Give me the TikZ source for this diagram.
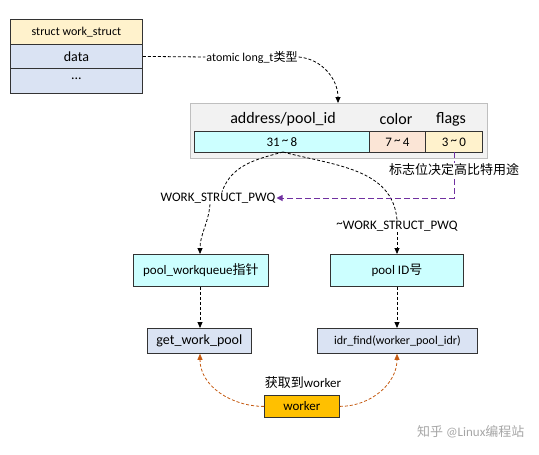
\documentclass[tikz,border=0pt]{standalone}
\usepackage{fontspec}
\setmainfont{Carlito}
\newfontfamily\cjk{Noto Sans CJK SC}
\usetikzlibrary{arrows.meta,calc}
\definecolor{hdr}{RGB}{255,242,204}
\definecolor{lav}{RGB}{218,227,243}
\definecolor{cyn}{RGB}{204,255,255}
\definecolor{pch}{RGB}{251,229,214}
\definecolor{gry}{RGB}{242,242,242}
\definecolor{gold}{RGB}{255,192,0}
\definecolor{purp}{RGB}{112,48,160}
\definecolor{orn}{RGB}{197,90,17}
\tikzset{
  box/.style={draw=black!80, line width=0.8pt, inner sep=0pt, anchor=north west},
  dline/.style={draw=black, line width=0.8pt, dash pattern=on 3pt off 2pt},
  darr/.style={dline, -{Triangle[length=6pt,width=5pt]}},
  parr/.style={draw=purp, line width=1pt, dash pattern=on 6pt off 3pt, -{Triangle[length=6pt,width=6pt]}},
  oarr/.style={draw=orn, line width=0.8pt, dash pattern=on 3pt off 2pt, -{Triangle[length=6pt,width=5pt]}},
  lbl/.style={font=\fontsize{13}{15}\selectfont, inner sep=1pt},
}
\begin{document}
\begin{tikzpicture}[x=1pt,y=-1pt]
\useasboundingbox (0,0) rectangle (539,455);
% struct box
\node[box, fill=hdr, minimum width=132pt, minimum height=25pt] (hd) at (10,19) {};
\node[font=\fontsize{12}{14}\selectfont] at (hd.center) {struct work\_struct};
\node[box, fill=lav, minimum width=132pt, minimum height=24pt] (dt) at (10,44) {};
\node[font=\fontsize{14}{16}\selectfont] at (dt.center) {data};
\node[box, fill=lav, minimum width=132pt, minimum height=25pt] (dots) at (10,68) {};
\node[font=\fontsize{14}{16}\selectfont] at ($(dots.center)+(0,-2)$) {...};
% outer word box
\node[box, draw=black!25, fill=gry, line width=0.6pt, minimum width=297pt, minimum height=55pt] (outer) at (190,103) {};
\node[font=\fontsize{16}{18}\selectfont] (ap) at (283,119) {address/pool\_id};
\node[font=\fontsize{16}{18}\selectfont] (col) at (396,119) {color};
\node[font=\fontsize{16}{18}\selectfont] (flg) at (451,119) {flags};
\node[box, fill=cyn, minimum width=175pt, minimum height=21pt] (c1) at (194,131) {};
\node[lbl] at (c1.center) {31\,\raisebox{0.3ex}{\textasciitilde}\,8};
\node[box, fill=pch, minimum width=56pt, minimum height=21pt] (c2) at (369,131) {};
\node[lbl] at (c2.center) {7\,\raisebox{0.3ex}{\textasciitilde}\,4};
\node[box, fill=hdr, minimum width=57pt, minimum height=21pt] (c3) at (425,131) {};
\node[lbl] at (c3.center) {3\,\raisebox{0.3ex}{\textasciitilde}\,0};
% atomic label and arrow
\node[lbl, font=\fontsize{12}{14}\selectfont] (atom) at (252,57) {atomic long\_t{\cjk 类型}};
\coordinate (outin) at (338,103);
\draw[dline] (dt.east) -- (atom.west);
\draw[darr] (atom.east) to[out=-5,in=90] (outin);
% labels
\node[lbl, fill=white] (wsp) at (218,198) {WORK\_STRUCT\_PWQ};
\node[lbl, fill=white] (nwsp) at (397,226) {\raisebox{0.3ex}{\textasciitilde}WORK\_STRUCT\_PWQ};
% boxes
\node[box, fill=cyn, minimum width=135pt, minimum height=32pt] (pwq) at (133,254) {};
\node[lbl] at (pwq.center) {pool\_workqueue{\cjk 指针}};
\node[box, fill=cyn, minimum width=133pt, minimum height=32pt] (pid) at (330,254) {};
\node[lbl] at (pid.center) {pool ID{\cjk 号}};
\node[box, fill=lav, minimum width=104pt, minimum height=25pt] (gwp) at (147,328) {};
\node[lbl, font=\fontsize{14}{16}\selectfont] at (gwp.center) {get\_work\_pool};
\node[box, fill=lav, minimum width=160pt, minimum height=25pt] (idr) at (317,328) {};
\node[lbl, font=\fontsize{12}{14}\selectfont] at (idr.center) {idr\_find(worker\_pool\_idr)};
\node[box, fill=gold, minimum width=75pt, minimum height=22pt] (wk) at (264,395) {};
\node[lbl] at (wk.center) {worker};
\node[lbl] (get) at (303,383) {{\cjk 获取到}worker};
% connectors from 31~8
\coordinate (src) at (283,152);
\coordinate (pwqin) at (200,254);
\coordinate (pidin) at (397,254);
\draw[dline] (src) to[out=195,in=70] ($(wsp.north)+(4,0)$);
\draw[darr] ($(wsp.south)+(-8,0)$) to[out=-95,in=90] (pwqin);
\draw[dline] (src) to[out=-15,in=95] ($(nwsp.north)+(0,0)$);
\draw[darr] (nwsp.south) -- (pidin);
% purple
\coordinate (fb) at (454,152);
\coordinate (pc) at (454,198);
\draw[parr] (fb) -- (pc) -- (wsp.east);
% flags note (covers purple line)
\node[lbl, fill=white, anchor=west] (note) at (388,170) {\cjk 标志位决定高比特用途};
% down arrows
\draw[darr] (pwq.south -| pwqin) -- (gwp.north -| pwqin);
\draw[darr] (pid.south -| pidin) -- (idr.north -| pidin);
% orange
\draw[oarr] (wk.west) to[out=180,in=-90] ($(gwp.south -| pwqin)$);
\draw[oarr] (wk.east) to[out=0,in=-90] ($(idr.south -| pidin)$);
% watermark
\node[font=\fontsize{13}{15}\selectfont, text=black!35, anchor=east] (wm) at (528,432) {{\cjk 知乎} @Linux{\cjk 编程站}};
\end{tikzpicture}
\end{document}
